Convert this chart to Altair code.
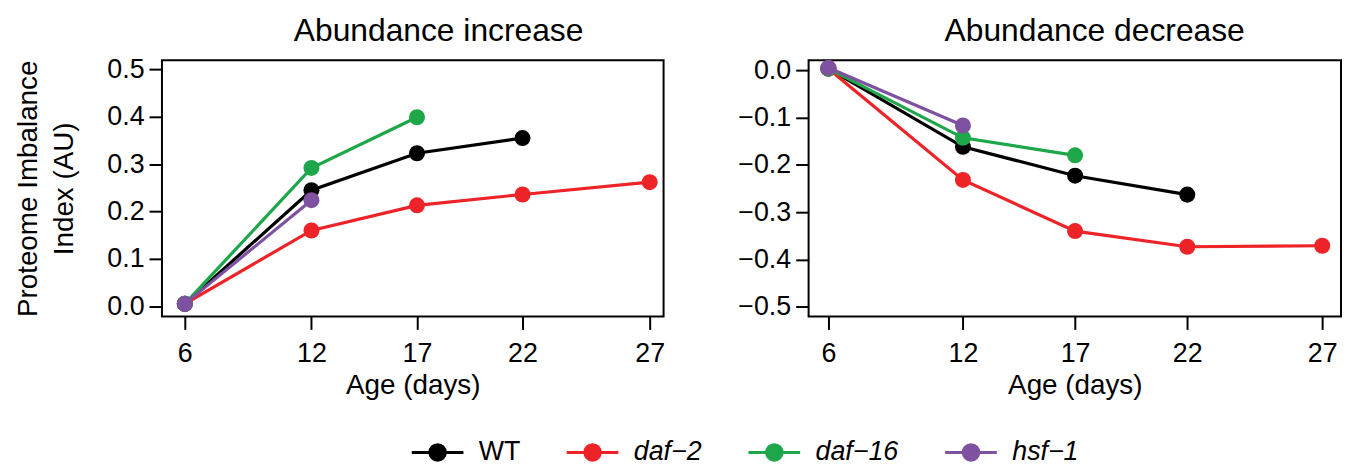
import altair as alt
import pandas as pd

series_names = ["WT", "daf\u22122", "daf\u221216", "hsf\u22121"]
series_colors = ["#000000", "#EE2328", "#1DA64A", "#7E52A0"]
age_ticks = [6, 12, 17, 22, 27]

wt_ages = [6, 12, 17, 22]
daf2_ages = [6, 12, 17, 22, 27]
daf16_ages = [6, 12, 17]
hsf1_ages = [6, 12]

inc_wt = [0.005, 0.245, 0.323, 0.355]
inc_daf2 = [0.005, 0.160, 0.213, 0.236, 0.262]
inc_daf16 = [0.005, 0.292, 0.399]
inc_hsf1 = [0.005, 0.224]

dec_wt = [0.003, -0.162, -0.223, -0.263]
dec_daf2 = [0.003, -0.232, -0.340, -0.373, -0.371]
dec_daf16 = [0.003, -0.143, -0.180]
dec_hsf1 = [0.005, -0.117]

inc_ticks = [0.0, 0.1, 0.2, 0.3, 0.4, 0.5]
dec_ticks = [0.0, -0.1, -0.2, -0.3, -0.4, -0.5]


def make_df(vals):
    rows = []
    for name, ages, v in zip(series_names, [wt_ages, daf2_ages, daf16_ages, hsf1_ages], vals):
        for a, y in zip(ages, v):
            rows.append({"series": name, "age": a, "value": y})
    return pd.DataFrame(rows)


df_inc = make_df([inc_wt, inc_daf2, inc_daf16, inc_hsf1])
df_dec = make_df([dec_wt, dec_daf2, dec_daf16, dec_hsf1])

FONT = "Liberation Sans"
SYMBOL = "M-1,0L1,0M0.3,0A0.3,0.3,0,1,1,-0.3,0A0.3,0.3,0,1,1,0.3,0Z"

legend = alt.Legend(
    title=None,
    orient="none",
    legendX=250,
    legendY=367,
    direction="horizontal",
    columns=4,
    gridAlign="each",
    symbolType=SYMBOL,
    symbolSize=2704,
    symbolStrokeWidth=3,
    symbolOpacity=1,
    labelFontSize=27,
    labelFont=FONT,
    labelColor="black",
    labelFontStyle=alt.ExprRef("datum.label == 'WT' ? 'normal' : 'italic'"),
    labelOffset=14,
    columnPadding=40,
)


def panel(df, title, dx, ydom, yvals, width, xdom, xrange, ytitle):
    base = alt.Chart(df)
    x = alt.X(
        "age:Q",
        scale=alt.Scale(domain=xdom, range=xrange, nice=False, zero=False),
        axis=alt.Axis(values=age_ticks, format="d", title="Age (days)"),
    )
    yaxis = alt.Axis(values=yvals, format=".1f", title=ytitle) if ytitle else alt.Axis(values=yvals, format=".1f", title=None)
    y = alt.Y(
        "value:Q",
        scale=alt.Scale(domain=ydom, nice=False, zero=False),
        axis=yaxis,
    )
    color = alt.Color(
        "series:N",
        scale=alt.Scale(domain=series_names, range=series_colors),
        legend=legend,
    )
    layers = []
    for s in series_names:
        sub = base.transform_filter(alt.datum.series == s)
        layers.append(sub.mark_line(strokeWidth=3.2).encode(x=x, y=y, color=color))
        layers.append(sub.mark_circle(size=260, opacity=1).encode(x=x, y=y, color=color))
    return alt.layer(*layers).properties(
        width=width,
        height=258,
        title=alt.TitleParams(title, dx=dx),
    )


left = panel(
    df_inc, "Abundance increase", 26,
    [-0.0216, 0.5195], inc_ticks, 505,
    [4.918, 22, 27, 27.66], [0, 363, 491, 505],
    ["Proteome Imbalance", "Index (AU)"],
)
right = panel(
    df_dec, "Abundance decrease", 20,
    [-0.5203, 0.0209], dec_ticks, 536,
    [5.119, 22, 27, 27.695], [0, 381.2, 517.1, 536],
    None,
)

chart = (
    alt.hconcat(left, right, spacing=70)
    .properties(padding={"left": 5, "top": 4, "right": 0, "bottom": 0})
    .configure_view(stroke="black", strokeWidth=2)
    .configure_axis(
        domain=False,
        grid=False,
        ticks=True,
        tickColor="black",
        tickWidth=2,
        tickSize=13,
        labelFont=FONT,
        labelFontSize=27,
        labelColor="black",
        labelPadding=5,
        labelFlush=False,
        labelOverlap=False,
        titleFont=FONT,
        titleFontSize=28,
        titleFontWeight="normal",
        titleColor="black",
    )
    .configure_axisY(titlePadding=29, titleLineHeight=36)
    .configure_axisX(titlePadding=6, labelPadding=11)
    .configure_title(font=FONT, fontSize=32, fontWeight="normal", color="black", anchor="middle", offset=8)
)

chart.save("out.html", embed_options={"renderer": "svg", "actions": False})
